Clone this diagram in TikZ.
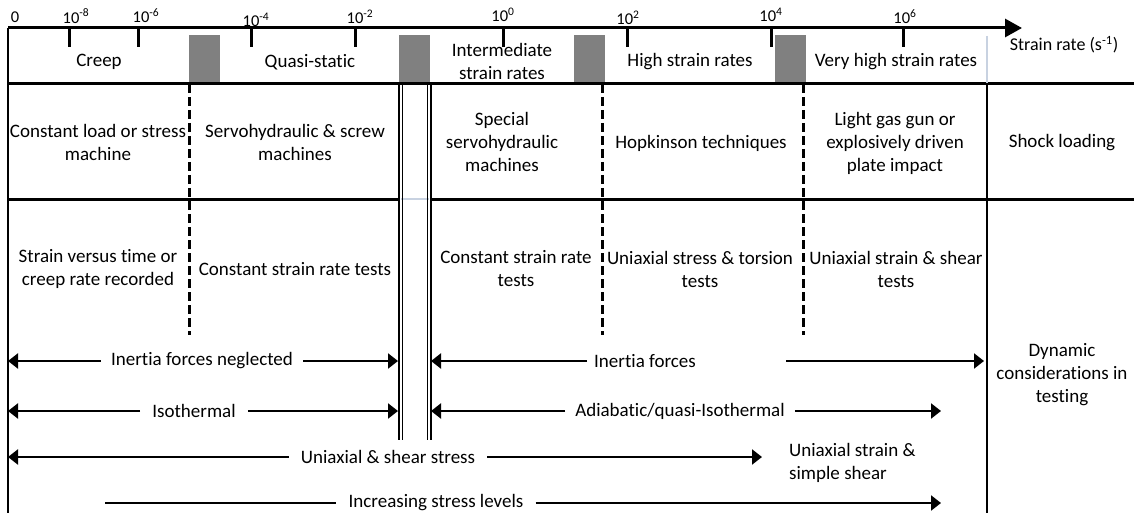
\documentclass[tikz,border=0pt]{standalone}
\usepackage{fontspec}
\setmainfont{Carlito}[Ligatures=NoCommon]
\usetikzlibrary{arrows.meta}
\definecolor{boxgrey}{RGB}{128,128,128}
\definecolor{paleline}{RGB}{200,210,225}
\begin{document}
\begin{tikzpicture}[x=1pt,y=-1pt,
  lbl/.style={font=\fontsize{19}{23}\selectfont, align=center, inner sep=0pt},
  axlbl/.style={font=\fontsize{16.5}{18}\selectfont, inner sep=0pt},
  arrlbl/.style={font=\fontsize{19}{23}\selectfont, inner ysep=0pt, inner xsep=10pt},
  sepline/.style={line width=3pt},
  dashsep/.style={line width=3pt, dash pattern=on 9pt off 4pt},
  dblline/.style={line width=1.6pt},
  axtick/.style={line width=3pt},
  arr/.style={line width=2.2pt, -{Triangle[length=10pt,width=15pt]}},
  greybox/.style={fill=boxgrey, draw=none},
]
\useasboundingbox (0,0) rectangle (1134,513);

% axis
\coordinate (ax0) at (8,28);
\coordinate (ax1) at (1022,28);
\draw[line width=3pt, -{Triangle[length=17pt,width=18pt]}] (ax0) -- (ax1);
\foreach \x in {69,138,251,355,503,627,771,903} \draw[axtick] (\x,28) -- (\x,47);

\node[axlbl] (l0)  at (15,17)  {0};
\node[axlbl] (lm8) at (76,16)  {10\textsuperscript{-8}};
\node[axlbl] (lm6) at (146,16) {10\textsuperscript{-6}};
\node[axlbl] (lm4) at (256,20) {10\textsuperscript{-4}};
\node[axlbl] (lm2) at (360,17) {10\textsuperscript{-2}};
\node[axlbl] (lp0) at (503,15) {10\textsuperscript{0}};
\node[axlbl] (lp2) at (628,18) {10\textsuperscript{2}};
\node[axlbl] (lp4) at (771,15) {10\textsuperscript{4}};
\node[axlbl] (lp6) at (905,17) {10\textsuperscript{6}};
\node[lbl, font=\fontsize{18}{22}\selectfont] (srate) at (1064,45) {Strain rate (s\textsuperscript{-1})};

% grey transition boxes
\fill[greybox] (189,35) rectangle (220,84);
\fill[greybox] (399,35) rectangle (430,84);
\fill[greybox] (574,35) rectangle (605,84);
\fill[greybox] (775,35) rectangle (806,84);

% frame lines
\draw[line width=2pt] (8,28) -- (8,513);
\draw[sepline] (8,84) -- (1134,84);
\draw[sepline] (8,199) -- (400,199);
\draw[sepline] (430,199) -- (1134,199);
\draw[paleline, line width=2pt] (401,199) -- (429,199);
\draw[paleline, line width=2pt] (987,36) -- (987,83);
\draw[line width=2.5pt] (987,84) -- (987,513);

% dashed separators
\draw[dashsep] (189,84) -- (189,335);
\draw[dashsep] (602,84) -- (602,335);
\draw[dashsep] (803,84) -- (803,335);

% double lines
\draw[dblline] (399,84) -- (399,440);
\draw[dblline] (402.5,84) -- (402.5,440);
\draw[dblline] (427.5,84) -- (427.5,440);
\draw[dblline] (431,84) -- (431,440);

% header row
\node[lbl] (creep) at (99,62) {Creep};
\node[lbl] (quasi) at (310,62) {Quasi-static};
\node[lbl] (inter) at (502,61) {Intermediate\\strain rates};
\node[lbl] (high)  at (690,62) {High strain rates};
\node[lbl] (vhigh) at (896,62) {Very high strain rates};

% machines row
\node[lbl] (m1) at (98,142)  {Constant load or stress\\machine};
\node[lbl] (m2) at (295,142) {Servohydraulic \& screw\\machines};
\node[lbl] (m3) at (502,142) {Special\\servohydraulic\\machines};
\node[lbl] (m4) at (701,143) {Hopkinson techniques};
\node[lbl] (m5) at (895,143) {Light gas gun or\\explosively driven\\plate impact};
\node[lbl] (m6) at (1062,143) {Shock loading};

% tests row
\node[lbl] (t1) at (98,269)  {Strain versus time or\\creep rate recorded};
\node[lbl] (t2) at (295,269) {Constant strain rate tests};
\node[lbl] (t3) at (516,269) {Constant strain rate\\tests};
\node[lbl] (t4) at (700,269) {Uniaxial stress \& torsion\\tests};
\node[lbl] (t5) at (896,269) {Uniaxial strain \& shear\\tests};
\node[lbl] (dyn) at (1062,375) {Dynamic\\considerations in\\testing};

% arrows: inertia forces neglected
\coordinate (a1l) at (8,361);
\coordinate (a1r) at (398,361);
\node[arrlbl] (ifn) at (202,361) {Inertia forces neglected};
\draw[arr] (ifn.west) -- (a1l);
\draw[arr] (ifn.east) -- (a1r);

% isothermal
\coordinate (a2l) at (8,411);
\coordinate (a2r) at (398,411);
\node[arrlbl, inner xsep=12pt] (iso) at (194,411) {Isothermal};
\draw[arr] (iso.west) -- (a2l);
\draw[arr] (iso.east) -- (a2r);

% inertia forces
\coordinate (a3l) at (431,361);
\coordinate (a3r) at (984,361);
\coordinate (g3l) at (587,361);
\coordinate (g3r) at (786,361);
\node[lbl] (inf) at (645,361) {Inertia forces};
\draw[arr] (g3l) -- (a3l);
\draw[arr] (g3r) -- (a3r);

% adiabatic
\coordinate (a4l) at (431,411);
\coordinate (a4r) at (941,411);
\node[arrlbl] (adi) at (680,411) {Adiabatic/quasi-Isothermal};
\draw[arr] (adi.west) -- (a4l);
\draw[arr] (adi.east) -- (a4r);

% uniaxial & shear stress
\coordinate (a5l) at (8,457);
\coordinate (a5r) at (762,457);
\node[arrlbl, inner xsep=12pt] (uss) at (388,457) {Uniaxial \& shear stress};
\draw[arr] (uss.west) -- (a5l);
\draw[arr] (uss.east) -- (a5r);
\node[lbl, align=left, anchor=west] (uss2) at (789,463) {Uniaxial strain \&\\simple shear};

% increasing stress levels
\coordinate (a6l) at (105,503);
\coordinate (a6r) at (941,503);
\node[arrlbl, inner xsep=12pt] (isl) at (436,503) {Increasing stress levels};
\draw[line width=2.2pt] (a6l) -- (isl.west);
\draw[arr] (isl.east) -- (a6r);
\end{tikzpicture}
\end{document}
